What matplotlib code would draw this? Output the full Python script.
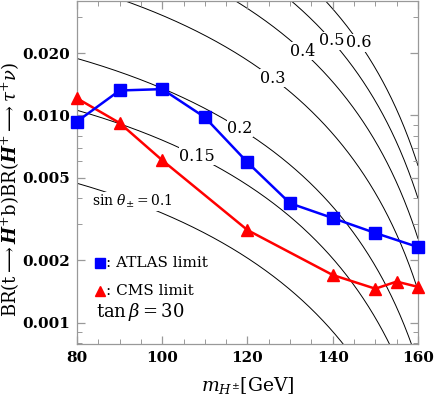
import numpy as np
import matplotlib
matplotlib.use('Agg')
from matplotlib import pyplot as plt
from matplotlib.ticker import FixedLocator, NullFormatter

plt.rcParams['font.family'] = 'DejaVu Serif'
plt.rcParams['mathtext.fontset'] = 'dejavuserif'

# ATLAS limit (blue squares)
atlas_m = [80, 90, 100, 110, 120, 130, 140, 150, 160]
atlas_br = [0.00935, 0.0132, 0.0134, 0.0098, 0.00594, 0.00377, 0.0032, 0.00271, 0.00232]

# CMS limit (red triangles)
cms_m = [80, 90, 100, 120, 140, 150, 155, 160]
cms_br = [0.0121, 0.0092, 0.00608, 0.0028, 0.0017, 0.00146, 0.00158, 0.00149]

# sin(theta) contours: BR = norm * s^2 * (1 - m^2/mt^2)^2
sin_vals = [0.1, 0.15, 0.2, 0.3, 0.4, 0.5, 0.6]
mt = 173.0
norm = 0.762
label_m = [93.1, 108.2, 118.2, 126.0, 133.0, 139.8, 146.2]
label_txt = [r'$\sin\,\theta_{\pm}=0.1$', '0.15', '0.2', '0.3', '0.4', '0.5', '0.6']
label_size = [10, 11.5, 11.5, 11.5, 11.5, 11.5, 11.5]

yticks = [0.001, 0.002, 0.005, 0.010, 0.020]
ytick_labels = ['0.001', '0.002', '0.005', '0.010', '0.020']
xticks = [80, 100, 120, 140, 160]

fig = plt.figure(figsize=(4.36, 3.98), dpi=100)
ax = fig.add_axes([0.1766, 0.1357, 0.782, 0.862])
ax.set_yscale('log')

mm = np.linspace(80, 160, 400)
for s, lm, lt, fs in zip(sin_vals, label_m, label_txt, label_size):
    br = norm * s**2 * (1 - mm**2 / mt**2)**2
    ax.plot(mm, br, color='black', lw=0.7, zorder=1)
    ly = norm * s**2 * (1 - lm**2 / mt**2)**2
    ax.text(lm, ly, lt, fontsize=fs, ha='center', va='center', zorder=2,
            bbox=dict(facecolor='white', edgecolor='none', pad=0.3))

ax.plot(atlas_m, atlas_br, color='#0000ff', lw=1.8, marker='s', ms=8, zorder=4, clip_on=False)
ax.plot(cms_m, cms_br, color='#ff0000', lw=1.8, marker='^', ms=8.5, zorder=3, clip_on=False)

# legend by hand
ax.plot([85.3], [0.00195], marker='s', color='#0000ff', ms=7, ls='none')
ax.text(86.9, 0.00195, ': ATLAS limit', fontsize=11, va='center')
ax.plot([85.3], [0.00143], marker='^', color='#ff0000', ms=7.5, ls='none')
ax.text(86.9, 0.00143, ': CMS limit', fontsize=11, va='center')
ax.text(84.5, 0.00113, r'$\tan\beta = 30$', fontsize=13, va='center')

ax.set_xlim(80, 160)
ax.set_ylim(0.00079, 0.0357)

ax.set_xticks(xticks)
ax.set_xticklabels([str(x) for x in xticks], fontweight='bold', fontsize=11)
ax.xaxis.set_minor_locator(FixedLocator(np.arange(80, 161, 5)))
ax.yaxis.set_major_locator(FixedLocator(yticks))
ax.set_yticklabels(ytick_labels, fontweight='bold', fontsize=11)
ax.yaxis.set_minor_locator(FixedLocator([0.0008, 0.0009, 0.003, 0.004, 0.006, 0.007, 0.008, 0.009, 0.03]))
ax.yaxis.set_minor_formatter(NullFormatter())

for sp in ax.spines.values():
    sp.set_color('#999999')
    sp.set_linewidth(0.9)
ax.tick_params(which='both', direction='in', top=True, right=True, color='#999999')
ax.tick_params(which='major', length=6, width=0.9, pad=5)
ax.tick_params(which='minor', length=3.5, width=0.7)

ax.set_xlabel(r'$m_{H^{\pm}}[\mathrm{GeV}]$', fontsize=13.5, labelpad=7)
ax.set_ylabel(r'$\mathrm{BR}(\mathrm{t}\longrightarrow\boldsymbol{H}^{+}\mathrm{b})\mathrm{BR}(\boldsymbol{H}^{+}\longrightarrow\tau^{+}\nu)$',
              fontsize=13)
ax.yaxis.set_label_coords(-0.16, 0.45)

fig.savefig('out.png', dpi=100)
